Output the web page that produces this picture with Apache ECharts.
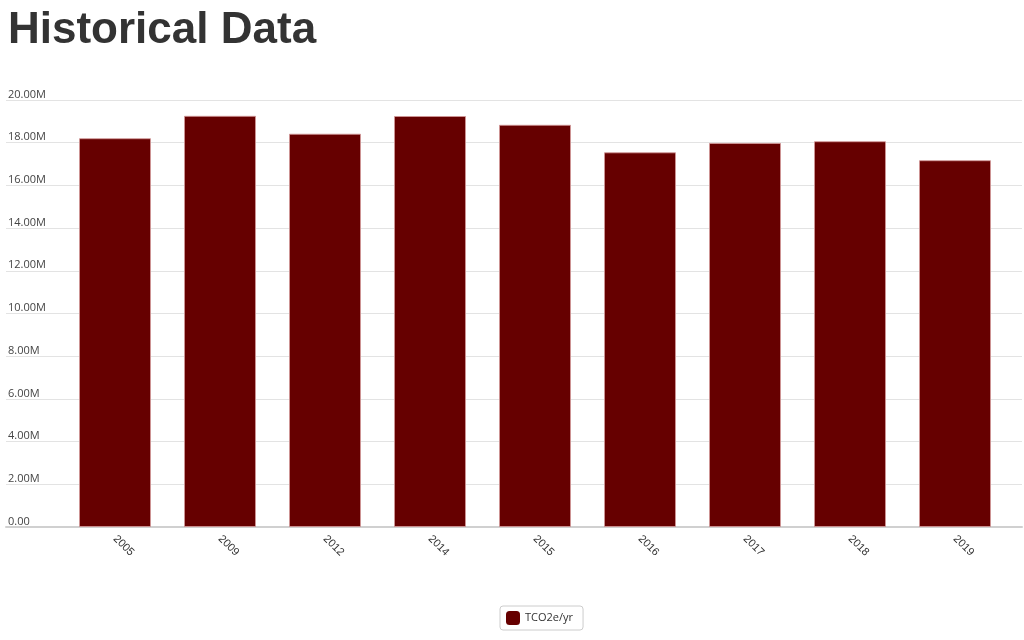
<!DOCTYPE html>
<html>
<head>
<meta charset="utf-8">
<script src="https://cdn.jsdelivr.net/npm/echarts@6/dist/echarts.min.js"></script>
<style>
html,body{margin:0;padding:0;background:#fff;}
#title{position:absolute;left:8px;top:0px;font-family:"Liberation Sans",Arial,sans-serif;font-weight:bold;font-size:44px;color:#333;line-height:56px;margin:0;}
#chart{position:absolute;left:0;top:0;width:1024px;height:640px;}
</style>
</head>
<body>
<div id="chart"></div>
<h1 id="title">Historical Data</h1>
<script>
const categories = ['2005','2009','2012','2014','2015','2016','2017','2018','2019'];
const seriesName = 'TCO2e/yr';
const values = [18210000, 19260000, 18420000, 19250000, 18840000, 17550000, 17990000, 18070000, 17180000];
const yTicks = [0, 2000000, 4000000, 6000000, 8000000, 10000000, 12000000, 14000000, 16000000, 18000000, 20000000];

const chart = echarts.init(document.getElementById('chart'));
function fmt(v){ return v === 0 ? '0.00' : (v/1e6).toFixed(2) + 'M'; }
chart.setOption({
  animation: false,
  grid: [
    {left: 6, right: 2, top: 100, bottom: 113},
    {left: 62.5, right: 16.5, top: 100, bottom: 113}
  ],
  xAxis: [
    {gridIndex: 0, type: 'value', min: 0, max: 1, show: true,
     axisLine: {show: true, lineStyle: {color: '#d0d0d0', width: 2}},
     axisTick: {show: false}, axisLabel: {show: false}, splitLine: {show: false}},
    {gridIndex: 1, type: 'category', data: categories,
     axisLine: {show: false}, axisTick: {show: false},
     axisLabel: {rotate: -45, fontSize: 11, color: '#333', fontFamily: 'Liberation Sans, Arial, sans-serif', margin: 10}}
  ],
  yAxis: [
    {gridIndex: 0, type: 'value', min: yTicks[0], max: yTicks[yTicks.length-1], interval: yTicks[1]-yTicks[0],
     axisLine: {show: false}, axisTick: {show: false},
     splitLine: {show: true, lineStyle: {color: '#e3e3e3', width: 1}},
     axisLabel: {inside: true, margin: 2, verticalAlign: 'bottom', padding: [0,0,0,0], fontSize: 11, color: '#444',
                 fontFamily: 'Open Sans, sans-serif', formatter: fmt, showMinLabel: true, showMaxLabel: true}},
    {gridIndex: 1, type: 'value', min: yTicks[0], max: yTicks[yTicks.length-1], show: false, splitLine: {show: false}}
  ],
  legend: {
    data: [seriesName], bottom: 10, left: 500,
    icon: 'roundRect', itemWidth: 14, itemHeight: 14, itemGap: 8,
    padding: [5, 10, 5, 6], borderColor: '#ccc', borderWidth: 1, borderRadius: 3,
    itemStyle: {borderWidth: 0},
    textStyle: {fontSize: 11, color: '#333', fontFamily: 'Open Sans, sans-serif'}
  },
  series: [{
    name: seriesName, type: 'bar', xAxisIndex: 1, yAxisIndex: 1,
    data: values, barWidth: 72,
    itemStyle: {color: '#660000', borderColor: 'rgba(210,150,150,0.85)', borderWidth: 1}
  }]
});
</script>
</body>
</html>
